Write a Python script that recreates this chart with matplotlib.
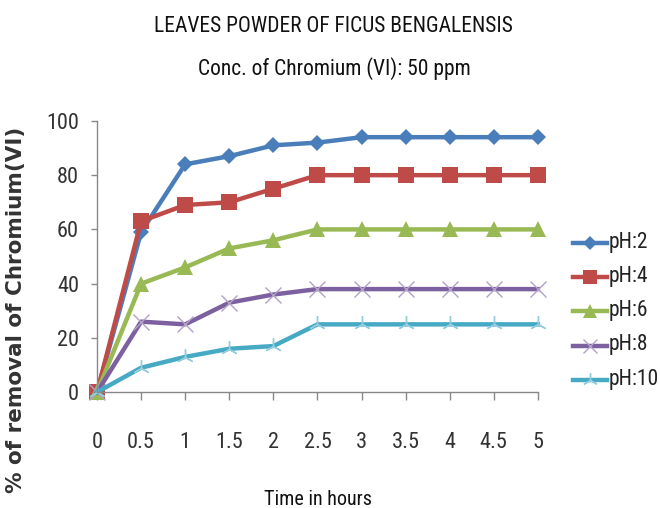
import matplotlib.pyplot as plt
from matplotlib import font_manager

# Time in hours and % removal of Cr(VI) for each pH
hours = [0, 0.5, 1, 1.5, 2, 2.5, 3, 3.5, 4, 4.5, 5]
ph2 = [0, 59, 84, 87, 91, 92, 94, 94, 94, 94, 94]
ph4 = [0, 63, 69, 70, 75, 80, 80, 80, 80, 80, 80]
ph6 = [0, 40, 46, 53, 56, 60, 60, 60, 60, 60, 60]
ph8 = [0, 26, 25, 33, 36, 38, 38, 38, 38, 38, 38]
ph10 = [0, 9, 13, 16, 17, 25, 25, 25, 25, 25, 25]
labels = ["pH:2", "pH:4", "pH:6", "pH:8", "pH:10"]
xticks = [0, 0.5, 1, 1.5, 2, 2.5, 3, 3.5, 4, 4.5, 5]
xtick_labels = ["0", "0.5", "1", "1.5", "2", "2.5", "3", "3.5", "4", "4.5", "5"]
yticks = [0, 20, 40, 60, 80, 100]

# pick a narrow face if one is around, else condensed DejaVu
names = {f.name for f in font_manager.fontManager.ttflist}
narrow = "DejaVu Sans"
for cand in ["Liberation Sans Narrow", "Roboto Condensed", "Open Sans Condensed",
             "Noto Sans Condensed", "DejaVu Sans Condensed"]:
    if cand in names:
        narrow = cand
        break
nfont = font_manager.FontProperties(family=narrow, stretch="condensed")

fig = plt.figure(figsize=(6.6, 5.08), dpi=100)
ax = fig.add_axes([0.147, 0.228, 0.668, 0.534])

styles = [
    dict(color="#4A7EBB", marker="D", ms=8, mew=0),
    dict(color="#BE4B48", marker="s", ms=11, mew=0),
    dict(color="#98B954", marker="^", ms=11, mew=0),
    dict(color="#7D60A0", marker="x", ms=11, mew=1.0, mec="#B3A2C7"),
    dict(color="#46AAC5", marker=(3, 2, 0), ms=12, mew=1.0, mec="#93CDDD"),
]
for ys, lab, st in zip([ph2, ph4, ph6, ph8, ph10], labels, styles):
    ax.plot(hours, ys, lw=3.2, label=lab, clip_on=False, **st)

ax.set_xlim(0, 5)
ax.set_ylim(0, 100)
ax.set_xticks(xticks)
ax.set_xticklabels(xtick_labels)
ax.set_yticks(yticks)
for s in ["top", "right"]:
    ax.spines[s].set_visible(False)
for s in ["left", "bottom"]:
    ax.spines[s].set_color("#888888")
    ax.spines[s].set_linewidth(1.0)
ax.tick_params(axis="both", colors="#888888", width=1.0, labelcolor="#333333")
ax.tick_params(axis="x", length=6, pad=23)
ax.tick_params(axis="y", length=4, pad=9)
for t in ax.get_xticklabels() + ax.get_yticklabels():
    t.set_fontproperties(nfont)
    t.set_fontsize(16)

fig.text(0.505, 0.947, "LEAVES POWDER OF FICUS BENGALENSIS", ha="center", va="center",
         fontproperties=nfont, fontsize=15.5, color="#111111")
fig.text(0.507, 0.866, "Conc. of Chromium (VI): 50 ppm", ha="center", va="center",
         fontproperties=nfont, fontsize=15.5, color="#111111")
fig.text(0.482, 0.016, "Time in hours", ha="center", va="center",
         fontproperties=nfont, fontsize=14.5, color="#111111")
fig.text(0.024, 0.39, "% of removal of Chromium(VI)", rotation=90, ha="center",
         va="center", fontsize=15.5, fontweight="bold", color="#333333")

leg = ax.legend(loc="center left", bbox_to_anchor=(1.079, 0.30), frameon=False,
                prop=nfont, handlelength=2.45, handletextpad=0.1,
                labelspacing=0.95, borderpad=0, borderaxespad=0, markerscale=0.9)
for t in leg.get_texts():
    t.set_color("#222222")
    t.set_fontsize(15.5)

fig.savefig("out.png", dpi=100)
